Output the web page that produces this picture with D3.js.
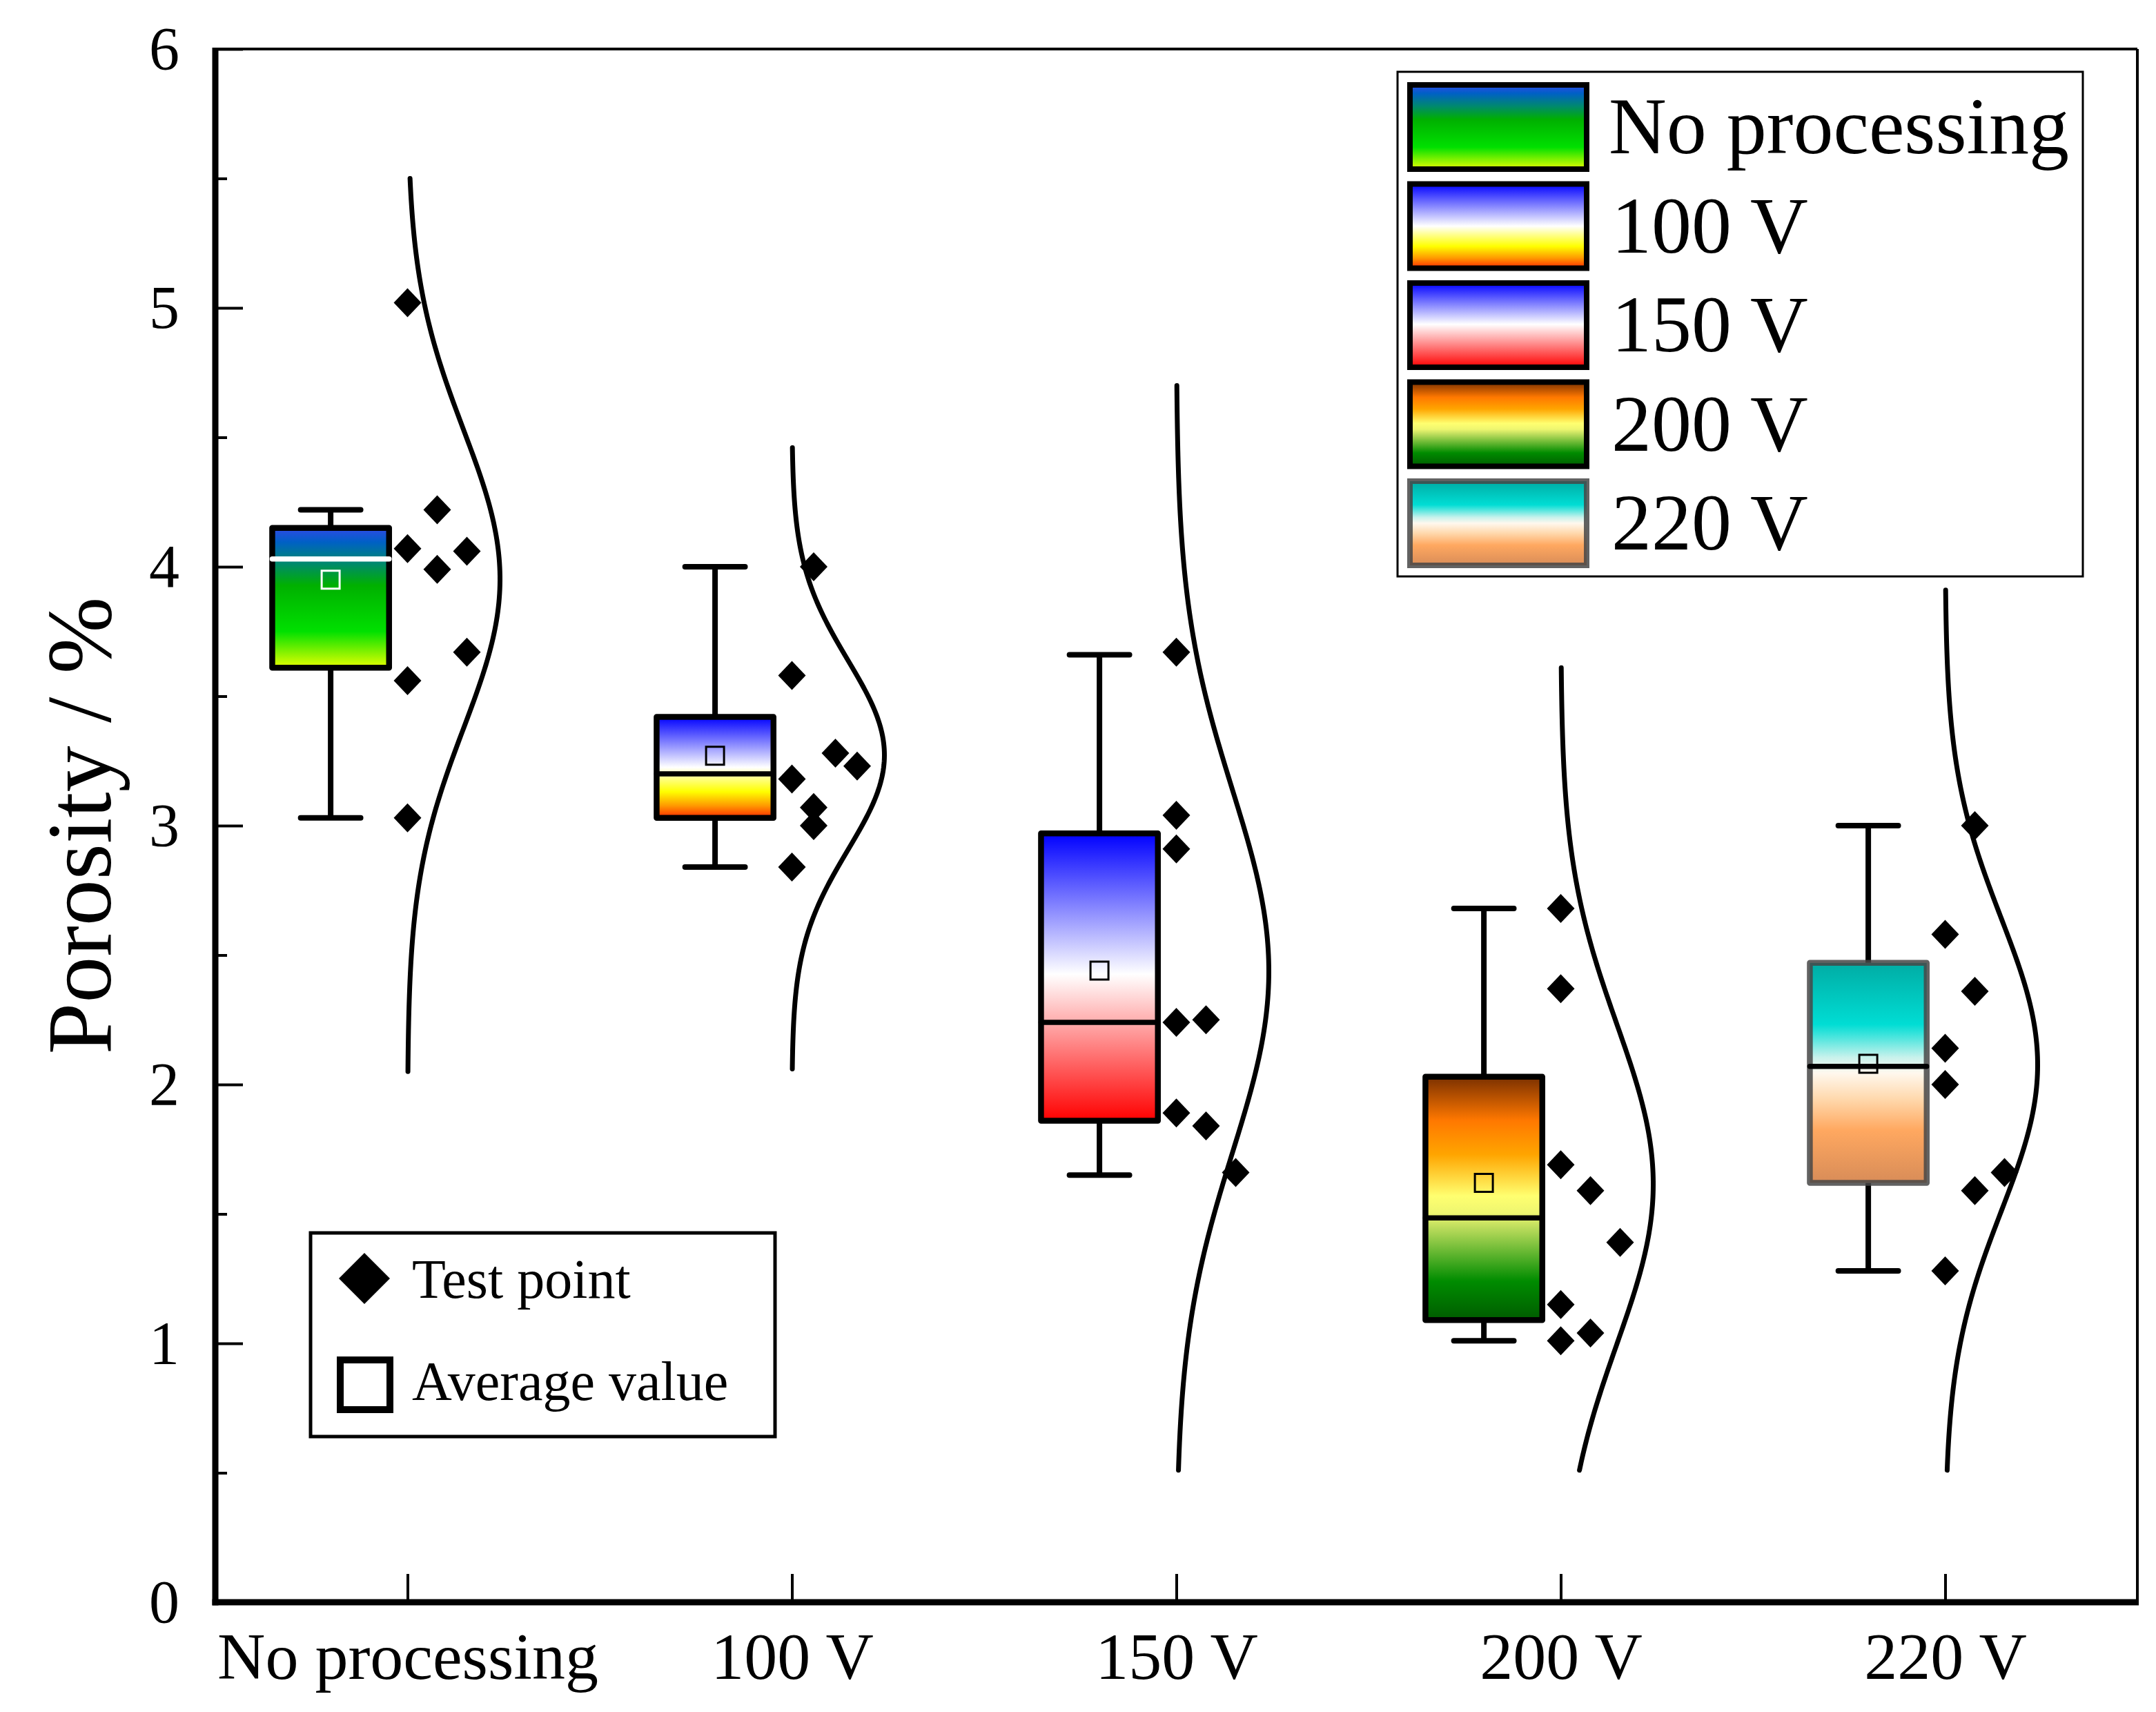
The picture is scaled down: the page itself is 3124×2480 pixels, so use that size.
<!DOCTYPE html>
<html>
<head>
<meta charset="utf-8">
<script src="https://cdn.jsdelivr.net/npm/d3@7"></script>
<style>
  body { margin: 0; background: #fff; }
  text { font-family: "Liberation Serif", "Times New Roman", serif; fill: #000; }
</style>
</head>
<body>
<script>
var categories = ["No processing", "100 V", "150 V", "200 V", "220 V"];

// test points for each group
var points = [
  [5.02, 4.22, 4.07, 4.06, 3.99, 3.67, 3.56, 3.03],
  [4.00, 3.58, 3.28, 3.23, 3.18, 3.07, 3.00, 2.84],
  [3.67, 3.04, 2.91, 2.24, 2.25, 1.89, 1.84, 1.66],
  [2.68, 2.37, 1.69, 1.59, 1.39, 1.15, 1.04, 1.01],
  [3.00, 2.58, 2.36, 2.14, 2.00, 1.66, 1.59, 1.28]
];
// jitter column of each test point
var pointCols = [
  [0, 1, 0, 2, 1, 2, 0, 0],
  [1, 0, 2, 3, 0, 1, 1, 0],
  [0, 0, 0, 0, 1, 0, 1, 2],
  [0, 0, 0, 1, 2, 0, 1, 0],
  [1, 0, 1, 0, 0, 2, 1, 0]
];

// box statistics
var whiskerLow  = [3.03, 2.84, 1.65, 1.01, 1.28];
var q1          = [3.61, 3.03, 1.86, 1.09, 1.62];
var median      = [4.03, 3.20, 2.24, 1.485, 2.07];
var q3          = [4.15, 3.42, 2.97, 2.03, 2.47];
var whiskerHigh = [4.22, 4.00, 3.66, 2.68, 3.00];
var means       = [3.95, 3.27, 2.44, 1.62, 2.08];

// extent of the normal curves
var curveLow  = [2.05, 2.06, 0.51, 0.51, 0.51];
var curveHigh = [5.50, 4.46, 4.70, 3.61, 3.91];

var yTicks = [0, 1, 2, 3, 4, 5, 6];
var yMinor = [0.5, 1.5, 2.5, 3.5, 4.5, 5.5];

// gradient stops per group
var gradients = [
  [[0, "#2f4ae6"], [0.1, "#0060c6"], [0.25, "#008870"], [0.41, "#00b000"], [0.74, "#00e000"], [1, "#e6ff00"]],
  [[0, "#0000ff"], [0.5, "#ffffff"], [0.6, "#ffff90"], [0.74, "#ffff00"], [0.88, "#ff9900"], [1, "#ff2800"]],
  [[0, "#0000ff"], [0.49, "#ffffff"], [1, "#ff0000"]],
  [[0, "#7a3000"], [0.18, "#ff7800"], [0.32, "#ffa500"], [0.49, "#ffff70"], [0.56, "#eef670"], [0.62, "#bcdc5c"], [0.84, "#008c00"], [1, "#005c00"]],
  [[0, "#00aca4"], [0.28, "#00ddd4"], [0.33, "#40e4dc"], [0.43, "#c8f2ec"], [0.5, "#fff8ee"], [0.62, "#ffd8ac"], [0.76, "#ffa860"], [1, "#d88c58"]]
];
var boxStroke = ["#000", "#000", "#000", "#000", "rgba(70,70,70,0.85)"];
var medianColor = ["#fff", "#000", "#000", "#000", "#000"];
var meanColor = ["#fff", "#000", "#000", "#000", "#000"];
var colGap = [43, 31.5, 43, 43, 43];

var width = 3124, height = 2480;
var plotLeft = 312, plotRight = 3097, plotTop = 71, plotBottom = 2321;

var svg = d3.select("body").append("svg")
  .attr("width", width)
  .attr("height", height);

var x = d3.scaleLinear().domain([0.5, 5.5]).range([plotLeft, plotRight]);
var y = d3.scaleLinear().domain([0, 6]).range([plotBottom, plotTop]);
var step = x(2) - x(1);

var defs = svg.append("defs");
gradients.forEach(function(stops, i) {
  var g = defs.append("linearGradient")
    .attr("id", "grad" + i)
    .attr("x1", 0).attr("y1", 0).attr("x2", 0).attr("y2", 1);
  stops.forEach(function(s) {
    g.append("stop").attr("offset", s[0]).attr("stop-color", s[1]);
  });
});

// axes
var yAxis = d3.axisLeft(y).tickValues(yTicks).tickSize(-40).tickPadding(52).tickFormat(d3.format("d"));
var ga = svg.append("g").attr("transform", "translate(" + plotLeft + ",0)").call(yAxis);
ga.select(".domain").remove();
ga.selectAll("line").attr("stroke-width", 4);
ga.selectAll("text").attr("font-size", 88).attr("dy", "0.32em").style("font-family", "Liberation Serif, serif");

var gm = svg.append("g").attr("transform", "translate(" + plotLeft + ",0)")
  .call(d3.axisLeft(y).tickValues(yMinor).tickSize(-17).tickFormat(""));
gm.select(".domain").remove();
gm.selectAll("line").attr("stroke-width", 4);

var xAxis = d3.axisBottom(x).tickValues([1, 2, 3, 4, 5]).tickSize(-41).tickPadding(43)
  .tickFormat(function(d) { return categories[d - 1]; });
var gx = svg.append("g").attr("transform", "translate(0," + plotBottom + ")").call(xAxis);
gx.select(".domain").remove();
gx.selectAll("line").attr("stroke-width", 4);
gx.selectAll("text").attr("font-size", 96).style("font-family", "Liberation Serif, serif");

// frame
svg.append("line").attr("x1", plotLeft).attr("x2", plotRight).attr("y1", plotTop).attr("y2", plotTop)
  .attr("stroke", "#000").attr("stroke-width", 4);
svg.append("line").attr("x1", plotRight).attr("x2", plotRight).attr("y1", plotTop).attr("y2", plotBottom)
  .attr("stroke", "#000").attr("stroke-width", 4);
svg.append("line").attr("x1", plotLeft).attr("x2", plotLeft).attr("y1", plotTop - 2).attr("y2", plotBottom + 4.5)
  .attr("stroke", "#000").attr("stroke-width", 9);
svg.append("line").attr("x1", plotLeft - 4.5).attr("x2", plotRight + 2).attr("y1", plotBottom).attr("y2", plotBottom)
  .attr("stroke", "#000").attr("stroke-width", 9);

svg.append("text")
  .attr("transform", "translate(160," + ((plotTop + plotBottom) / 2) + ") rotate(-90)")
  .attr("text-anchor", "middle")
  .attr("font-size", 134)
  .text("Porosity / %");

// boxes
var boxHalf = 0.152 * step, capHalf = 0.078 * step;
categories.forEach(function(c, i) {
  var cx = x(i + 1 - 0.2);
  var g = svg.append("g");
  g.append("line").attr("x1", cx).attr("x2", cx).attr("y1", y(whiskerHigh[i])).attr("y2", y(q3[i]))
    .attr("stroke", "#000").attr("stroke-width", 8);
  g.append("line").attr("x1", cx).attr("x2", cx).attr("y1", y(q1[i])).attr("y2", y(whiskerLow[i]))
    .attr("stroke", "#000").attr("stroke-width", 8);
  [whiskerHigh[i], whiskerLow[i]].forEach(function(v) {
    g.append("line").attr("x1", cx - capHalf).attr("x2", cx + capHalf).attr("y1", y(v)).attr("y2", y(v))
      .attr("stroke", "#000").attr("stroke-width", 8).attr("stroke-linecap", "round");
  });
  g.append("rect")
    .attr("x", cx - boxHalf).attr("y", y(q3[i]))
    .attr("width", boxHalf * 2).attr("height", y(q1[i]) - y(q3[i]))
    .attr("fill", "url(#grad" + i + ")")
    .attr("stroke", boxStroke[i]).attr("stroke-width", 8.5).attr("stroke-linejoin", "round");
  g.append("line").attr("x1", cx - boxHalf).attr("x2", cx + boxHalf).attr("y1", y(median[i])).attr("y2", y(median[i]))
    .attr("stroke", medianColor[i]).attr("stroke-width", 7.5).attr("stroke-linecap", "round");
  g.append("rect")
    .attr("x", cx - 13).attr("y", y(means[i]) - 13).attr("width", 26).attr("height", 26)
    .attr("fill", "none").attr("stroke", meanColor[i]).attr("stroke-width", 3);
});

// normal curves
var curveWidth = 134;
var line = d3.line().x(function(d) { return d[0]; }).y(function(d) { return d[1]; });
categories.forEach(function(c, i) {
  var m = d3.mean(points[i]), sd = d3.deviation(points[i]);
  var x0 = x(i + 1);
  var pts = d3.range(0, 201).map(function(k) {
    var v = curveLow[i] + (curveHigh[i] - curveLow[i]) * k / 200;
    var z = (v - m) / sd;
    return [x0 + curveWidth * Math.exp(-0.5 * z * z), y(v)];
  });
  svg.append("path").attr("d", line(pts))
    .attr("fill", "none").attr("stroke", "#000").attr("stroke-width", 7)
    .attr("stroke-linecap", "round");
});

// test points
var diamond = "M0,-21L20,0L0,21L-20,0Z";
categories.forEach(function(c, i) {
  svg.append("g").selectAll("path")
    .data(points[i])
    .enter()
    .append("path")
    .attr("d", diamond)
    .attr("transform", function(d, j) {
      return "translate(" + (x(i + 1) + pointCols[i][j] * colGap[i]) + "," + y(d) + ")";
    })
    .attr("fill", "#000");
});

// legend of groups
var lg = svg.append("g");
lg.append("rect").attr("x", 2025).attr("y", 104).attr("width", 993).attr("height", 731)
  .attr("fill", "#fff").attr("stroke", "#000").attr("stroke-width", 3);
categories.forEach(function(c, i) {
  var ty = 119 + i * 143.5;
  lg.append("rect").attr("x", 2043).attr("y", ty + 4).attr("width", 256).attr("height", 122)
    .attr("fill", "url(#grad" + i + ")").attr("stroke", boxStroke[i]).attr("stroke-width", 8);
  lg.append("text").attr("x", i === 0 ? 2331 : 2335).attr("y", ty + 103)
    .attr("font-size", 116).text(c);
});

// legend of symbols
var ls = svg.append("g");
ls.append("rect").attr("x", 450).attr("y", 1786).attr("width", 673).attr("height", 295)
  .attr("fill", "#fff").attr("stroke", "#000").attr("stroke-width", 5);
ls.append("path").attr("d", "M0,-37L37,0L0,37L-37,0Z").attr("transform", "translate(528,1852)").attr("fill", "#000");
ls.append("text").attr("x", 597).attr("y", 1880).attr("font-size", 80).text("Test point");
ls.append("rect").attr("x", 493).attr("y", 1970).attr("width", 72).attr("height", 72)
  .attr("fill", "none").attr("stroke", "#000").attr("stroke-width", 10);
ls.append("text").attr("x", 597).attr("y", 2028).attr("font-size", 80).text("Average value");
</script>
</body>
</html>
